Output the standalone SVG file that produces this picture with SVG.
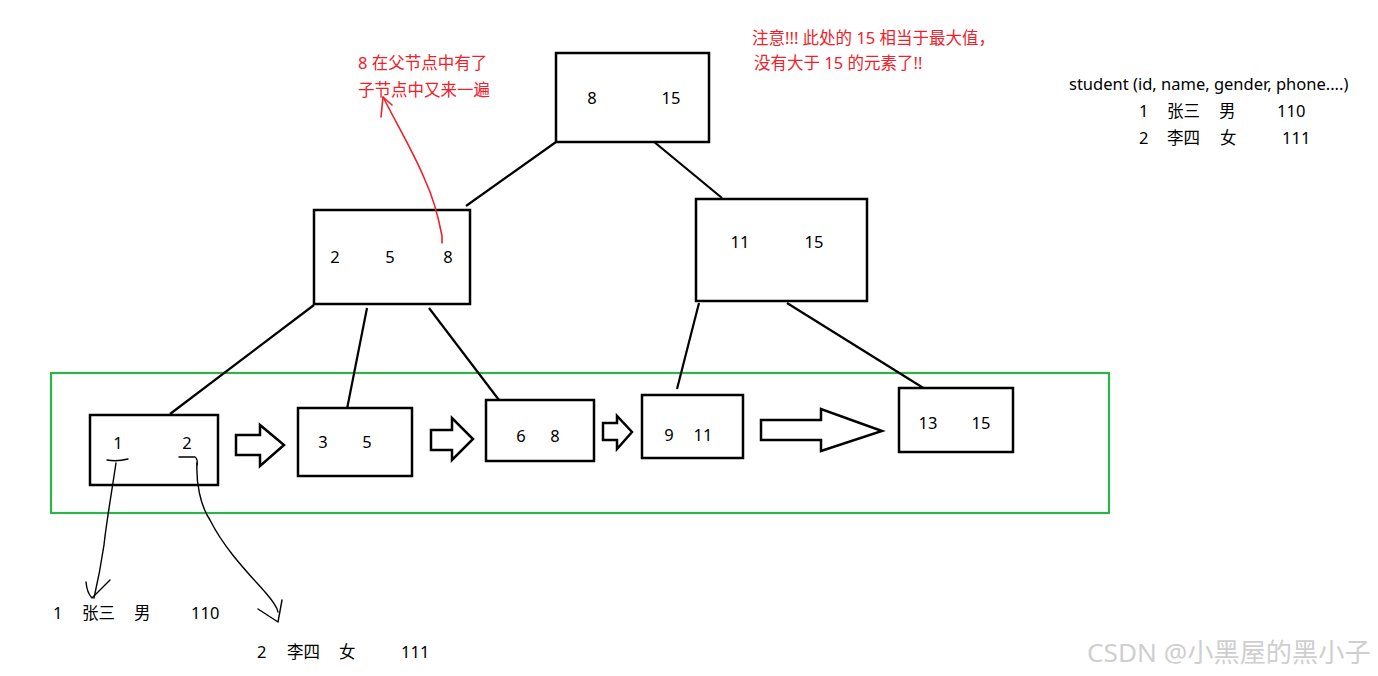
<svg xmlns="http://www.w3.org/2000/svg" width="1378" height="676" viewBox="0 0 1378 676">
<style>
.box{fill:#fff;stroke:#000;stroke-width:2.5}
.num{font-family:"Noto Sans","Noto Sans CJK SC",sans-serif;font-size:16.5px;fill:#000;text-anchor:middle}
.txt{font-family:"Noto Sans","Noto Sans CJK SC",sans-serif;font-size:16.5px;fill:#000}
.red{font-family:"Noto Sans","Noto Sans CJK SC",sans-serif;font-size:16.5px;fill:#f0202a}
.edge{stroke:#000;stroke-width:2.2;fill:none}
.barrow{fill:#fff;stroke:#000;stroke-width:2.5;stroke-linejoin:miter}
.hand{stroke:#000;stroke-width:1.4;fill:none;stroke-linecap:round;stroke-linejoin:round}
.redline{stroke:#f0202a;stroke-width:1.6;fill:none;stroke-linecap:round;stroke-linejoin:round}
</style>
<rect width="1378" height="676" fill="#fff"/>
<rect x="51" y="373" width="1058" height="140" fill="none" stroke="#2db34a" stroke-width="2.2"/>
<g id="connectors">
<line class="edge" x1="556" y1="142" x2="466" y2="206"/>
<line class="edge" x1="653" y1="141" x2="722" y2="198"/>
<line class="edge" x1="314" y1="305" x2="170" y2="414"/>
<line class="edge" x1="367" y1="308" x2="347" y2="409"/>
<line class="edge" x1="429" y1="308" x2="502" y2="404"/>
<line class="edge" x1="699" y1="303" x2="677" y2="389"/>
<line class="edge" x1="787" y1="303" x2="925" y2="389"/>
<polygon class="barrow" points="236,435 260,435 260,425 284,445 260,466 260,455 236,455"/>
<polygon class="barrow" points="431,430 452,430 452,418 473,439 452,460 452,450 431,450"/>
<polygon class="barrow" points="603,423 617,423 617,416 632,432 617,449 617,440 603,440"/>
<polygon class="barrow" points="761,420 821,420 821,409 882,431 821,451 821,440 761,440"/>
</g>
<g id="root">
<rect class="box" x="556" y="53" width="153" height="89"/>
<text class="num" x="592" y="104">8</text>
<text class="num" x="671" y="104">15</text>
</g>
<g id="mid-left">
<rect class="box" x="314" y="210" width="156" height="94"/>
<text class="num" x="335" y="263">2</text>
<text class="num" x="390" y="263">5</text>
<text class="num" x="448" y="263">8</text>
</g>
<g id="mid-right">
<rect class="box" x="696" y="199" width="171" height="102"/>
<text class="num" x="740" y="248">11</text>
<text class="num" x="814" y="248">15</text>
</g>
<g id="leaf1">
<rect class="box" x="90" y="415" width="128" height="70"/>
<text class="num" x="118" y="449">1</text>
<text class="num" x="187" y="449">2</text>
</g>
<g id="leaf2">
<rect class="box" x="298" y="408" width="114" height="68"/>
<text class="num" x="323" y="448">3</text>
<text class="num" x="367" y="448">5</text>
</g>
<g id="leaf3">
<rect class="box" x="486" y="400" width="108" height="61"/>
<text class="num" x="521" y="442">6</text>
<text class="num" x="555" y="442">8</text>
</g>
<g id="leaf4">
<rect class="box" x="642" y="395" width="101" height="63"/>
<text class="num" x="669" y="441">9</text>
<text class="num" x="703" y="441">11</text>
</g>
<g id="leaf5">
<rect class="box" x="899" y="388" width="114" height="64"/>
<text class="num" x="928" y="429">13</text>
<text class="num" x="981" y="429">15</text>
</g>
<g id="hand-arrows">
<path class="hand" d="M107,460 Q117,462 128,459"/>
<path class="hand" d="M179,457 L195,457 Q198,459 197,465"/>
<path class="hand" d="M116,463 C112,490 106,525 104,545 C101,565 97,585 94,598"/>
<path class="hand" d="M86,582 Q87,593 92,598 L110,580"/>
<path class="hand" d="M197,463 C196,482 200,505 210,520 C225,550 250,575 265,592 C272,600 277,606 278,612"/>
<path class="hand" d="M258,609 L278,622 L282,600"/>
<path class="redline" d="M442,243 L442,236 C438,215 432,195 425,180 C415,155 400,130 383,97"/>
<path class="redline" d="M381,117 L383,97 L392,105"/>
</g>
<g id="note-left">
<text class="red" x="358" y="69">8 在父节点中有了</text>
<text class="red" x="358" y="96">子节点中又来一遍</text>
</g>
<g id="note-right">
<text class="red" x="752" y="44">注意!!! 此处的 15 相当于最大值，</text>
<text class="red" x="754" y="69">没有大于 15 的元素了!!</text>
</g>
<g id="table">
<text class="txt" x="1069" y="90">student (id, name, gender, phone....)</text>
<text class="txt" x="1139" y="117">1</text>
<text class="txt" x="1167" y="117">张三</text>
<text class="txt" x="1219" y="117">男</text>
<text class="txt" x="1277" y="117">110</text>
<text class="txt" x="1139" y="144">2</text>
<text class="txt" x="1167" y="144">李四</text>
<text class="txt" x="1220" y="144">女</text>
<text class="txt" x="1282" y="144">111</text>
</g>
<g id="record1">
<text class="txt" x="53" y="619">1</text>
<text class="txt" x="82" y="619">张三</text>
<text class="txt" x="134" y="619">男</text>
<text class="txt" x="191" y="619">110</text>
</g>
<g id="record2">
<text class="txt" x="257" y="658">2</text>
<text class="txt" x="287" y="658">李四</text>
<text class="txt" x="339" y="658">女</text>
<text class="txt" x="401" y="658">111</text>
</g>
<text x="1087" y="662" font-family="Noto Sans, Noto Sans CJK SC, sans-serif" font-size="26.2" fill="#cfcfcf">CSDN @小黑屋的黑小子</text>
</svg>
